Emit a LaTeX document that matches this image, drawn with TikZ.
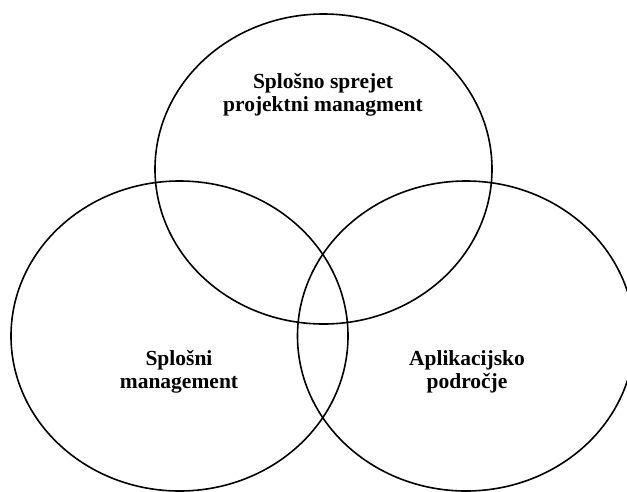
\documentclass[tikz,border=0pt]{standalone}
\usepackage{fontspec}
\setmainfont{Liberation Serif}
\usetikzlibrary{shapes.geometric}
\tikzset{
  set/.style={draw=black, line width=1.6pt, ellipse, inner sep=0pt,
    minimum width=337pt, minimum height=310pt},
  lbl/.style={align=center, font=\fontsize{21.5}{23.5}\selectfont\bfseries}
}
\begin{document}
\begin{tikzpicture}[x=1pt, y=-1pt]
  \useasboundingbox (0,0) rectangle (627,491);
  % three overlapping areas
  \node[set] (top)   at (323.5,169) {};
  \node[set] (left)  at (179.5,336) {};
  \node[set] (right) at (466,336) {};
  % labels
  \node[lbl] (toplbl)   at (323,95)  {Splošno sprejet\\projektni managment};
  \node[lbl] (leftlbl)  at (179,372) {Splošni\\management};
  \node[lbl] (rightlbl) at (467,372) {Aplikacijsko\\področje};
\end{tikzpicture}
\end{document}
